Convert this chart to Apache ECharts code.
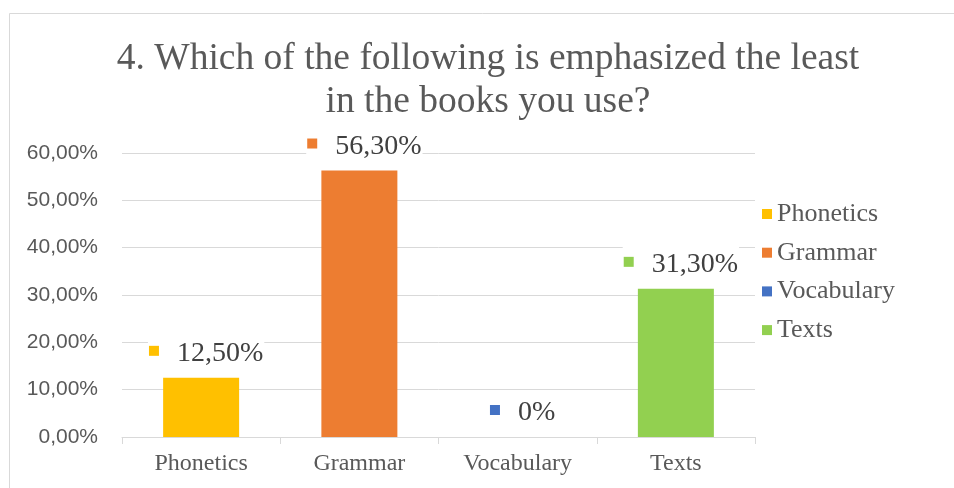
<!DOCTYPE html>
<html>
<head>
<meta charset="utf-8">
<script src="https://cdn.jsdelivr.net/npm/echarts@6/dist/echarts.min.js"></script>
<style>html,body{margin:0;padding:0;background:#fff;}#c{width:954px;height:488px;}</style>
</head>
<body>
<div id="c"></div>
<script>
const titleText = '4. Which of the following is emphasized the least\nin the books you use?';
const categories = ['Phonetics', 'Grammar', 'Vocabulary', 'Texts'];
const values = [12.5, 56.3, 0, 31.3];
const yMin = 0, yMax = 60, yInterval = 10;
const palette = ['#FFC000', '#ED7D31', '#4472C4', '#92D050'];

const SERIF = '"Liberation Serif", "Times New Roman", serif';
const SANS = '"Liberation Sans", Arial, sans-serif';
const fmtPct = v => v === 0 ? '0%' : v.toFixed(2).replace('.', ',') + '%';

const series = categories.map((name, i) => ({
  name: name,
  type: 'bar',
  barWidth: 76,
  barGap: '-100%',
  itemStyle: { color: palette[i] },
  data: categories.map((c, j) => j === i ? values[i] : '-'),
  label: {
    show: true,
    position: 'top',
    distance: 11,
    offset: [5, 0],
    backgroundColor: '#fff',
    padding: [1, 1],
    formatter: p => '{sq|}{gap|}{v|' + fmtPct(p.value) + '}',
    rich: {
      sq: { width: 10, height: 10, backgroundColor: palette[i] },
      gap: { width: 18, height: 10 },
      v: { fontFamily: SERIF, fontSize: 28, color: '#404040', lineHeight: 30, padding: [6, 0, 0, 0] }
    }
  }
}));

const chart = echarts.init(document.getElementById('c'), null, { renderer: 'canvas' });
chart.setOption({
  animation: false,
  backgroundColor: '#fff',
  graphic: [{
    type: 'rect', silent: true, z: -10,
    shape: { x: 9.5, y: 13.5, width: 2000, height: 2000 },
    style: { fill: null, stroke: '#d9d9d9', lineWidth: 1 }
  }],
  title: {
    text: titleText,
    left: 488,
    top: 38,
    padding: 0,
    textAlign: 'center',
    textStyle: { fontFamily: SERIF, fontSize: 37.5, fontWeight: 'normal', color: '#595959', lineHeight: 43 }
  },
  legend: {
    orient: 'vertical',
    left: 757,
    top: 195,
    icon: 'rect',
    itemWidth: 10,
    itemHeight: 10,
    itemGap: 10.7,
    data: categories,
    textStyle: { fontFamily: SERIF, fontSize: 26, color: '#595959', lineHeight: 28 }
  },
  grid: { left: 122, right: 199, top: 153, bottom: 51, containLabel: false },
  xAxis: {
    type: 'category',
    data: categories,
    axisLine: { lineStyle: { color: '#d9d9d9' } },
    axisTick: { show: true, length: 7, lineStyle: { color: '#d9d9d9' } },
    axisLabel: { fontFamily: SERIF, fontSize: 24, color: '#595959', margin: 15 }
  },
  yAxis: {
    type: 'value',
    min: yMin, max: yMax, interval: yInterval,
    axisLine: { show: false },
    axisTick: { show: false },
    splitLine: { lineStyle: { color: '#d9d9d9' } },
    axisLabel: { fontFamily: SANS, fontSize: 21, color: '#595959', margin: 24,
      formatter: v => v.toFixed(2).replace('.', ',') + '%' }
  },
  series: series
});
</script>
</body>
</html>
